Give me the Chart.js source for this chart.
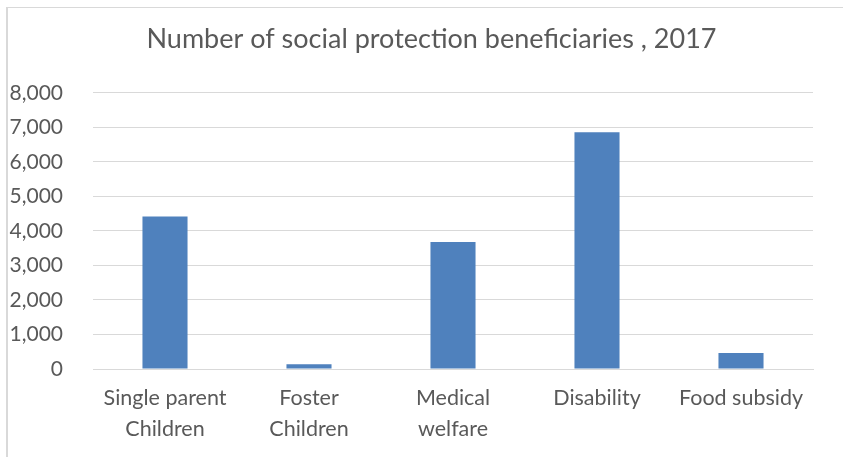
<!DOCTYPE html>
<html>
<head>
<meta charset="utf-8">
<script src="https://cdn.jsdelivr.net/npm/chart.js@4.4.1/dist/chart.umd.min.js"></script>
<style>
  html, body { margin: 0; padding: 0; background: #ffffff; }
  #wrap { position: relative; width: 843px; height: 457px; }
  #frame { position: absolute; left: 6px; top: 7px; right: 0; bottom: 0;
           border-left: 2px solid #d9d9d9; border-top: 1px solid #d9d9d9; pointer-events: none; }
  canvas { position: absolute; left: 0; top: 0; }
</style>
</head>
<body>
<div id="wrap">
  <div id="frame"></div>
  <canvas id="c" width="843" height="457"></canvas>
</div>
<script>
const titleText = "Number of social protection beneficiaries , 2017";
const categories = [["Single parent", "Children"], ["Foster", "Children"], ["Medical", "welfare"], ["Disability"], ["Food subsidy"]];
const beneficiaries = [4420, 140, 3680, 6860, 465];
const yTicks = [0, 1000, 2000, 3000, 4000, 5000, 6000, 7000, 8000];

const FONT = "Lato, 'Open Sans', sans-serif";
const TEXT = "#595959";
const GRID = "#d9d9d9";

// Centre the title on the (wider, cropped) chart frame, as in the reference
const titleShift = {
  id: "titleShift",
  afterLayout(chart) {
    const t = chart.titleBlock;
    if (t) { t.left = 0; t.right = 863; t.width = 863; }
  }
};

new Chart(document.getElementById("c"), {
  type: "bar",
  data: {
    labels: categories,
    datasets: [{
      data: beneficiaries,
      backgroundColor: "#4f81bd",
      borderWidth: 0,
      categoryPercentage: 1,
      barPercentage: 0.313
    }]
  },
  options: {
    responsive: false,
    animation: false,
    devicePixelRatio: 1,
    layout: { padding: { left: 0, right: 30, top: 0, bottom: 0 } },
    plugins: {
      legend: { display: false },
      tooltip: { enabled: false },
      title: {
        display: true,
        text: titleText,
        color: TEXT,
        font: { family: FONT, size: 27, weight: "normal" },
        padding: { top: 23, bottom: 37.5 }
      }
    },
    scales: {
      x: {
        grid: { display: false, drawTicks: false },
        border: { display: true, color: GRID, width: 1 },
        ticks: {
          color: TEXT,
          font: { family: FONT, size: 21.5, lineHeight: 1.47 },
          padding: 13,
          maxRotation: 0,
          autoSkip: false
        },
        afterFit: (s) => { s.height = 88; }
      },
      y: {
        min: 0,
        max: 8000,
        afterBuildTicks: (s) => { s.ticks = yTicks.map(v => ({ value: v })); },
        grid: { color: GRID, lineWidth: 1, drawTicks: false },
        border: { display: false },
        ticks: {
          color: TEXT,
          font: { family: FONT, size: 21 },
          padding: 30,
          callback: (v) => v.toLocaleString("en-US")
        },
        afterFit: (s) => { s.width = 93; }
      }
    }
  },
  plugins: [titleShift]
});
</script>
</body>
</html>
